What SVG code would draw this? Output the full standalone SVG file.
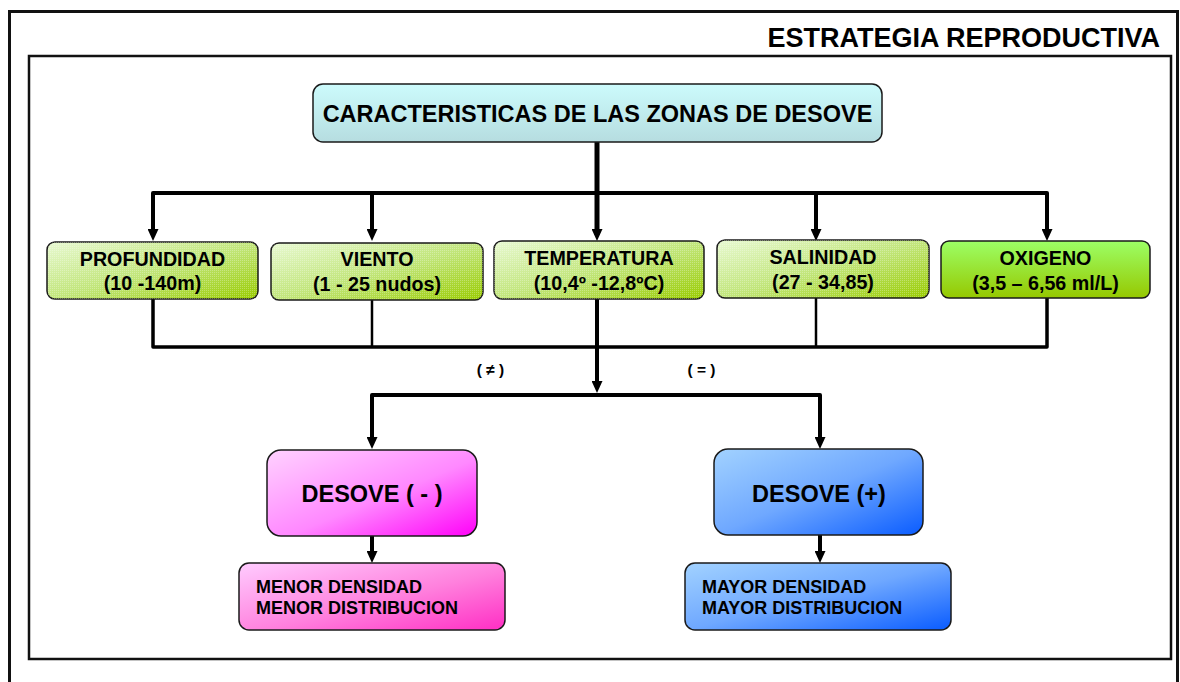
<svg xmlns="http://www.w3.org/2000/svg" width="1180" height="682" viewBox="0 0 1180 682">
<defs>
  <linearGradient id="gCyan" x1="0" y1="0" x2="0" y2="1">
    <stop offset="0" stop-color="#ccfbfc"/>
    <stop offset="1" stop-color="#b6dde0"/>
  </linearGradient>
  <linearGradient id="gGreen" x1="0" y1="0" x2="1" y2="1">
    <stop offset="0" stop-color="#e8f9d2"/>
    <stop offset="0.5" stop-color="#c2e67c"/>
    <stop offset="1" stop-color="#99cc00"/>
  </linearGradient>
  <linearGradient id="gOxi" x1="0" y1="0" x2="0" y2="1">
    <stop offset="0" stop-color="#9cff66"/>
    <stop offset="1" stop-color="#96c800"/>
  </linearGradient>
  <linearGradient id="gPink" x1="0" y1="0" x2="1" y2="1">
    <stop offset="0" stop-color="#ffd2ff"/>
    <stop offset="0.55" stop-color="#ff88ff"/>
    <stop offset="1" stop-color="#ff00f8"/>
  </linearGradient>
  <linearGradient id="gPink2" x1="0" y1="0" x2="1" y2="1">
    <stop offset="0" stop-color="#ffccff"/>
    <stop offset="0.55" stop-color="#ff80dd"/>
    <stop offset="1" stop-color="#ff2ec4"/>
  </linearGradient>
  <linearGradient id="gBlue" x1="0" y1="0" x2="1" y2="1">
    <stop offset="0" stop-color="#a2d2ff"/>
    <stop offset="0.5" stop-color="#6fa8ff"/>
    <stop offset="1" stop-color="#0a5cff"/>
  </linearGradient>
  <pattern id="dots" width="2" height="2" patternUnits="userSpaceOnUse">
    <rect x="0" y="0" width="1" height="1" fill="#ffffff" fill-opacity="0.28"/>
  </pattern>
  <marker id="arr" viewBox="0 0 12 11" refX="6" refY="5.5" markerWidth="12" markerHeight="11" markerUnits="userSpaceOnUse" orient="auto">
    <path d="M0,0 L12,5.5 L0,11 z" fill="#000"/>
  </marker>
  <style>
    .frame { fill: none; stroke: #111; }
    .box { stroke: #1a1a1a; stroke-width: 1.5; }
    .t { font-family: "Liberation Sans", Arial, sans-serif; font-weight: bold; fill: #000; }
    .c { text-anchor: middle; }
    .ln { fill: none; stroke: #000; stroke-linejoin: round; }
  </style>
</defs>

<rect width="1180" height="682" fill="#ffffff"/>

<g id="frame">
  <path class="frame" d="M9.5,690 V11.5 H1177.5 V690" stroke-width="3"/>
  <rect class="frame" x="29" y="56" width="1142" height="603" stroke-width="2.5"/>
  <text class="t" x="1160" y="47" text-anchor="end" font-size="27">ESTRATEGIA REPRODUCTIVA</text>
</g>

<g id="connectors">
  <path class="ln" d="M597,142 V235" stroke-width="5" marker-end="url(#arr)"/>
  <path class="ln" d="M153,235 V193 H1047 V235" stroke-width="4" marker-end="url(#arr)"/>
  <path class="ln" d="M153,193 V235" stroke-width="4" marker-end="url(#arr)"/>
  <path class="ln" d="M372,193 V235" stroke-width="4" marker-end="url(#arr)"/>
  <path class="ln" d="M816,193 V235" stroke-width="4" marker-end="url(#arr)"/>
  <path class="ln" d="M153,299 V347 H1047 V298" stroke-width="3.5"/>
  <path class="ln" d="M372,300 V347" stroke-width="2.5"/>
  <path class="ln" d="M816,298 V347" stroke-width="2.5"/>
  <path class="ln" d="M597,299 V387" stroke-width="4" marker-end="url(#arr)"/>
  <path class="ln" d="M372,443 V395 H820 V443" stroke-width="4" marker-end="url(#arr)"/>
  <path class="ln" d="M372,395 V443" stroke-width="4" marker-end="url(#arr)"/>
  <path class="ln" d="M372,536 V557" stroke-width="4" marker-end="url(#arr)"/>
  <path class="ln" d="M820,535 V557" stroke-width="4" marker-end="url(#arr)"/>
  <text class="t c" x="490.5" y="375" font-size="15.5">( ≠ )</text>
  <text class="t c" x="701.5" y="375" font-size="15.5">( = )</text>
</g>

<g id="node-caracteristicas">
  <rect class="box" x="313" y="84" width="569" height="58" rx="10" fill="url(#gCyan)"/>
  <text class="t c" x="597.5" y="122" font-size="23.5">CARACTERISTICAS DE LAS ZONAS DE DESOVE</text>
</g>

<g id="node-profundidad">
  <rect class="box" x="47" y="242" width="211" height="57" rx="8" fill="url(#gGreen)"/>
  <rect x="47" y="242" width="211" height="57" rx="8" fill="url(#dots)"/>
  <text class="t c" x="152.5" y="266" font-size="19.7">PROFUNDIDAD</text>
  <text class="t c" x="152.5" y="290" font-size="19.7">(10 -140m)</text>
</g>

<g id="node-viento">
  <rect class="box" x="271" y="243" width="212" height="57" rx="8" fill="url(#gGreen)"/>
  <rect x="271" y="243" width="212" height="57" rx="8" fill="url(#dots)"/>
  <text class="t c" x="377" y="266" font-size="19.7">VIENTO</text>
  <text class="t c" x="377" y="291" font-size="19.7">(1 - 25 nudos)</text>
</g>

<g id="node-temperatura">
  <rect class="box" x="494" y="241" width="210" height="58" rx="8" fill="url(#gGreen)"/>
  <rect x="494" y="241" width="210" height="58" rx="8" fill="url(#dots)"/>
  <text class="t c" x="599" y="265" font-size="19.7">TEMPERATURA</text>
  <text class="t c" x="599" y="290" font-size="19.7">(10,4º -12,8ºC)</text>
</g>

<g id="node-salinidad">
  <rect class="box" x="717" y="240" width="212" height="58" rx="8" fill="url(#gGreen)"/>
  <rect x="717" y="240" width="212" height="58" rx="8" fill="url(#dots)"/>
  <text class="t c" x="823" y="264" font-size="19.7">SALINIDAD</text>
  <text class="t c" x="823" y="289" font-size="19.7">(27 - 34,85)</text>
</g>

<g id="node-oxigeno">
  <rect class="box" x="941" y="241" width="209" height="57" rx="8" fill="url(#gOxi)"/>
  <text class="t c" x="1045.5" y="265" font-size="19.7">OXIGENO</text>
  <text class="t c" x="1045.5" y="290" font-size="19.7">(3,5 – 6,56 ml/L)</text>
</g>

<g id="node-desove-menos">
  <rect class="box" x="267" y="450" width="210" height="86" rx="14" fill="url(#gPink)"/>
  <text class="t c" x="372" y="502" font-size="23.5">DESOVE ( - )</text>
</g>

<g id="node-desove-mas">
  <rect class="box" x="714" y="449" width="209" height="86" rx="14" fill="url(#gBlue)"/>
  <text class="t c" x="819" y="502" font-size="23.5">DESOVE (+)</text>
</g>

<g id="node-menor">
  <rect class="box" x="239" y="563" width="266" height="67" rx="10" fill="url(#gPink2)"/>
  <text class="t" x="256" y="592.5" font-size="18">MENOR DENSIDAD</text>
  <text class="t" x="256" y="614" font-size="18">MENOR DISTRIBUCION</text>
</g>

<g id="node-mayor">
  <rect class="box" x="685" y="563" width="266" height="67" rx="10" fill="url(#gBlue)"/>
  <text class="t" x="702" y="592.5" font-size="18">MAYOR DENSIDAD</text>
  <text class="t" x="702" y="614" font-size="18">MAYOR DISTRIBUCION</text>
</g>
</svg>
